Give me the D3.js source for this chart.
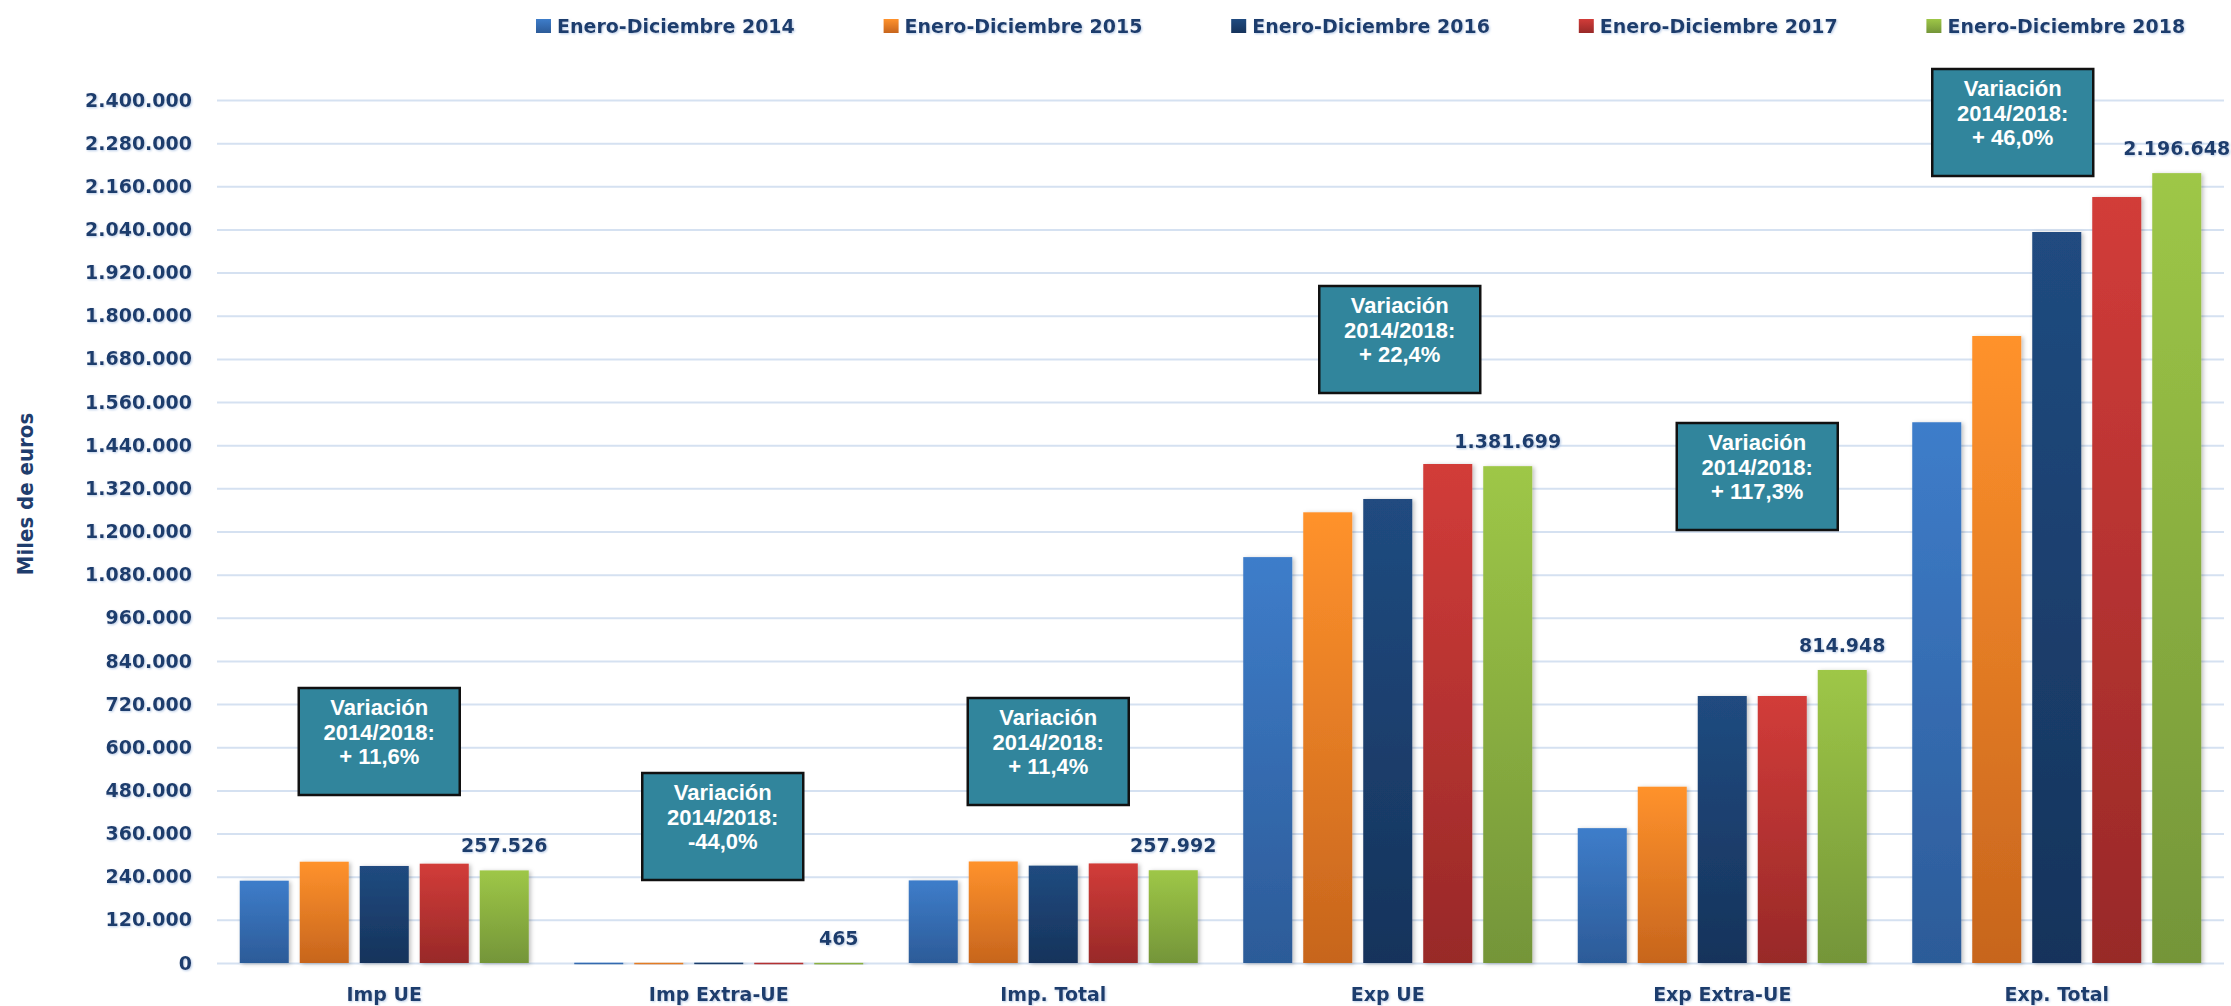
<!DOCTYPE html>
<html>
<head>
    <meta charset="utf-8">
    <title>Comercio exterior 2014-2018</title>
    <script src="https://d3js.org/d3.v7.min.js"></script>
    <style>
    body { margin: 0; background: #fff; }
    .board text { fill: #1F3D6D; font-family: "DejaVu Sans", Verdana, sans-serif; font-weight: bold; }
    .grid line { stroke: #D5E1F1; stroke-width: 2; }
    .note text { fill: #fff; font-family: "Liberation Sans", Arial, sans-serif; font-size: 22px; }
    </style>
</head>
<body>
<div id="dy-canvas"></div>

<script>
    // categories and series (miles de euros)
    var categories = ["Imp UE", "Imp Extra-UE", "Imp. Total", "Exp UE", "Exp Extra-UE", "Exp. Total"];
    var years = ["Enero-Diciembre 2014", "Enero-Diciembre 2015", "Enero-Diciembre 2016", "Enero-Diciembre 2017", "Enero-Diciembre 2018"];
    var v2014 = [228900, 830, 229730, 1128800, 375030, 1503830];
    var v2015 = [281700, 650, 282350, 1253400, 490300, 1743700];
    var v2016 = [269800, 980, 270780, 1290400, 742500, 2032900];
    var v2017 = [276200, 720, 276920, 1387700, 742500, 2130200];
    var v2018 = [257526, 465, 257992, 1381699, 814948, 2196648];
    var yTicks = [0, 120000, 240000, 360000, 480000, 600000, 720000, 840000, 960000, 1080000, 1200000,
                  1320000, 1440000, 1560000, 1680000, 1800000, 1920000, 2040000, 2160000, 2280000, 2400000];
    var variations = ["+ 11,6%", "-44,0%", "+ 11,4%", "+ 22,4%", "+ 117,3%", "+ 46,0%"];

    var series = [v2014, v2015, v2016, v2017, v2018];
    var colTop = ["#3E7DCA", "#FF922C", "#204B80", "#D23C39", "#9EC747"];
    var colBot = ["#2C5B98", "#C7651D", "#16335B", "#982928", "#749539"];

    // annotation boxes: offset from category centre (px) and top (px)
    var boxDx = [-5, 4, -5, 12, 35, -44];
    var boxTop = [688, 773, 698, 286, 423, 69];
    var boxW = 161, boxH = 107;

    var w = 2231, h = 1006;
    var plotLeft = 217, plotRight = 2224, plotBase = 963, plotTop = 100;

    var es = d3.formatLocale({decimal: ",", thousands: ".", grouping: [3], currency: ["", " €"]});
    var fmt = es.format(",");

    var svg = d3.select("#dy-canvas")
        .append("svg")
        .attr("class", "board")
        .attr("width", w)
        .attr("height", h);

    var defs = svg.append("defs");
    colTop.forEach(function(c, i) {
        var g = defs.append("linearGradient")
            .attr("id", "g" + i)
            .attr("x1", 0).attr("y1", 0).attr("x2", 0).attr("y2", 1);
        g.append("stop").attr("offset", "0%").attr("stop-color", c);
        g.append("stop").attr("offset", "100%").attr("stop-color", colBot[i]);
    });
    var sh = defs.append("filter").attr("id", "shadow")
        .attr("x", "-20%").attr("y", "-5%").attr("width", "150%").attr("height", "110%");
    sh.append("feDropShadow").attr("dx", 2).attr("dy", 1).attr("stdDeviation", 2)
        .attr("flood-color", "#000").attr("flood-opacity", 0.25);
    var tsh = defs.append("filter").attr("id", "tshadow");
    tsh.append("feDropShadow").attr("dx", 1).attr("dy", 1).attr("stdDeviation", 0.8)
        .attr("flood-color", "#9DB7DD").attr("flood-opacity", 0.7);

    var x0 = d3.scaleBand().domain(categories).range([plotLeft, plotRight]).padding(0);
    var x1 = d3.scaleBand().domain(years).range([0, x0.bandwidth()])
        .paddingInner(0.183).paddingOuter(0.379);
    var y = d3.scaleLinear().domain([0, 2400000]).range([plotBase, plotTop]);

    // grid + y labels
    var yAxis = svg.append("g")
        .attr("class", "grid")
        .attr("transform", "translate(" + plotLeft + ",0)")
        .call(d3.axisLeft(y).tickValues(yTicks).tickSize(-(plotRight - plotLeft)).tickPadding(25)
            .tickFormat(function(d) { return fmt(d); }));
    yAxis.select(".domain").remove();
    yAxis.selectAll("text")
        .attr("font-size", 19)
        .attr("filter", "url(#tshadow)");

    // x labels
    var xAxis = svg.append("g")
        .attr("transform", "translate(0," + plotBase + ")")
        .call(d3.axisBottom(x0).tickSize(0).tickPadding(25));
    xAxis.select(".domain").remove();
    xAxis.selectAll("text")
        .attr("font-size", 19)
        .attr("filter", "url(#tshadow)");

    // bars
    var groups = svg.selectAll("g.cat")
        .data(categories)
        .enter()
        .append("g")
        .attr("class", "cat")
        .attr("transform", function(d) { return "translate(" + x0(d) + ",0)"; });

    groups.selectAll("rect")
        .data(function(d, ci) { return years.map(function(yr, si) { return {yr: yr, si: si, v: series[si][ci]}; }); })
        .enter()
        .append("rect")
        .attr("x", function(d) { return x1(d.yr); })
        .attr("width", x1.bandwidth())
        .attr("y", function(d) { return y(d.v); })
        .attr("height", function(d) { return Math.max(1.5, plotBase - y(d.v)); })
        .attr("fill", function(d) { return "url(#g" + d.si + ")"; })
        .attr("filter", "url(#shadow)");

    // value labels on the 2018 bars
    svg.selectAll("text.val")
        .data(categories)
        .enter()
        .append("text")
        .attr("class", "val")
        .attr("x", function(d) { return x0(d) + x1(years[4]) + x1.bandwidth() / 2; })
        .attr("y", function(d, i) { return y(v2018[i]) - 18; })
        .attr("text-anchor", "middle")
        .attr("font-size", 19)
        .attr("filter", "url(#tshadow)")
        .text(function(d, i) { return fmt(v2018[i]); });

    // legend
    var leg = svg.selectAll("g.leg")
        .data(years)
        .enter()
        .append("g")
        .attr("class", "leg")
        .attr("transform", function(d, i) { return "translate(" + (536 + i * 347.6) + ",0)"; });
    leg.append("rect")
        .attr("x", 0).attr("y", 19).attr("width", 15).attr("height", 14)
        .attr("fill", function(d, i) { return "url(#g" + i + ")"; });
    leg.append("text")
        .attr("x", 21).attr("y", 33)
        .attr("font-size", 19)
        .attr("filter", "url(#tshadow)")
        .text(function(d) { return d; });

    // y title
    svg.append("text")
        .attr("transform", "translate(33,494) rotate(-90)")
        .attr("text-anchor", "middle")
        .style("font-family", "'Liberation Sans Narrow', 'DejaVu Sans Condensed', sans-serif")
        .attr("font-size", 22)
        .text("Miles de euros");

    // variation boxes
    var note = svg.selectAll("g.note")
        .data(categories)
        .enter()
        .append("g")
        .attr("class", "note")
        .attr("transform", function(d, i) {
            var cx = x0(d) + x0.bandwidth() / 2 + boxDx[i];
            return "translate(" + (cx - boxW / 2) + "," + boxTop[i] + ")";
        });
    note.append("rect")
        .attr("width", boxW).attr("height", boxH)
        .attr("fill", "#31859C")
        .attr("stroke", "#111")
        .attr("stroke-width", 2.5);
    note.append("text")
        .attr("text-anchor", "middle")
        .attr("x", boxW / 2)
        .selectAll("tspan")
        .data(function(d, i) { return ["Variación", "2014/2018:", variations[i]]; })
        .enter()
        .append("tspan")
        .attr("x", boxW / 2)
        .attr("y", function(d, j) { return 27 + j * 24.5; })
        .text(function(d) { return d; });
</script>
</body>
</html>
